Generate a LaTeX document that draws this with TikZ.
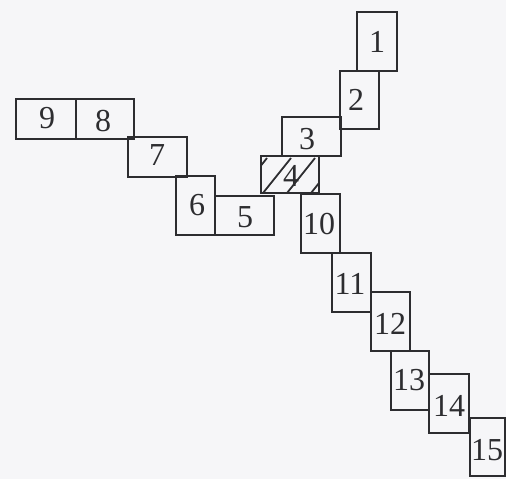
\documentclass[tikz,border=0pt]{standalone}
\usepackage{fontspec}
\setmainfont{Liberation Serif}
\definecolor{ink}{RGB}{45,45,48}
\definecolor{paper}{RGB}{246,246,248}
\begin{document}
\begin{tikzpicture}[x=1pt,y=-1pt,
  cell/.style={draw=ink,line width=2.6pt,inner sep=0pt},
  num/.style={text=ink,font=\fontsize{32}{32}\selectfont,inner sep=0pt},
  hatchline/.style={draw=ink,line width=1.8pt}]
\fill[paper] (0,0) rectangle (506,479);
\useasboundingbox (0,0) rectangle (506,479);
% hatching of box 4 (drawn first, under the frame)
\coordinate (h4sw) at (261,193);
\coordinate (h4ne) at (319,156);
\begin{scope}
  \clip (h4sw) rectangle (h4ne);
  \foreach \xb in {239,263,287,311}
    \draw[hatchline] (\xb,193) -- ++(28,-35);
\end{scope}
% boxes: name, center x, center y, width, height, label position
\newcommand\cellbox[6]{%
  \node[cell,minimum width=#4pt,minimum height=#5pt] (b#1) at (#2,#3) {};
  \node[num] (l#1) at (#6) {#1};}
\cellbox{1}{377}{41.5}{40}{59}{377,42}
\cellbox{2}{359.5}{100}{39}{58}{356,100}
\cellbox{3}{311.5}{136.5}{59}{39}{307,139}
\cellbox{4}{290}{174.5}{58}{37}{291,176}
\cellbox{10}{320.5}{223.5}{39}{59}{319,224}
\cellbox{11}{351.5}{282.5}{39}{59}{350,284}
\cellbox{12}{390.5}{321.5}{39}{59}{390,324}
\cellbox{13}{410}{380.5}{38}{59}{409,380}
\cellbox{14}{449}{403.5}{40}{59}{449,406}
\cellbox{15}{487.5}{447}{35}{58}{487,450}
\cellbox{9}{46}{119}{60}{40}{47,118}
\cellbox{8}{105}{119}{58}{40}{103,121}
\cellbox{7}{157.5}{157}{59}{40}{157,155}
\cellbox{6}{195.5}{205.5}{39}{59}{197,205}
\cellbox{5}{244.5}{215.5}{59}{39}{245,217}
\end{tikzpicture}
\end{document}
